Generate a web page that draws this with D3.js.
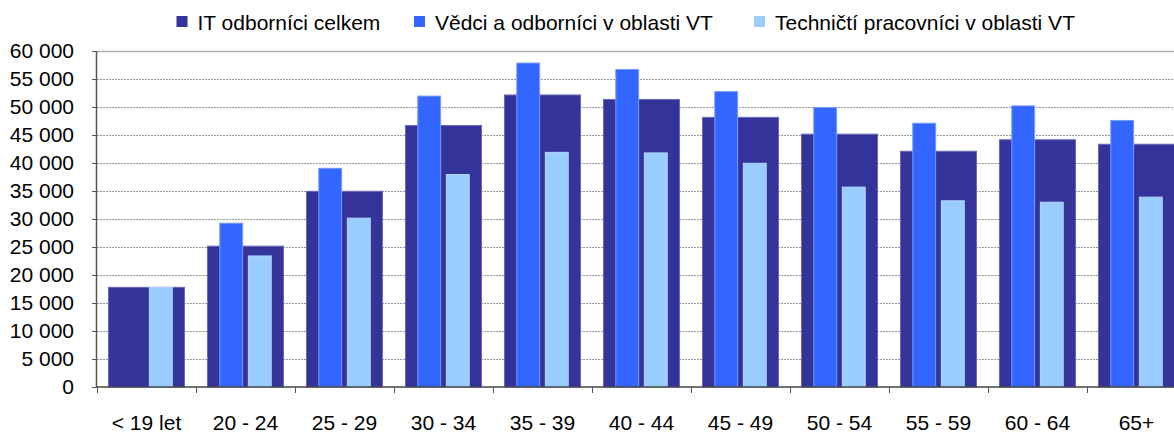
<!DOCTYPE html>
<html>
<head>
<meta charset="utf-8">
<script src="https://cdn.jsdelivr.net/npm/d3@7"></script>
<style>
  body { margin: 0; background: #fff; }
  svg text { font-family: "Liberation Sans", Arial, sans-serif; fill: #000; }
</style>
</head>
<body>
<svg></svg>
<script>
const size = {w: 1174, h: 432};
const margin = {t: 51, l: 97, b: 45};

const categories = ['< 19 let', '20 - 24', '25 - 29', '30 - 34', '35 - 39', '40 - 44',
    '45 - 49', '50 - 54', '55 - 59', '60 - 64', '65+'];
const itCelkem = [17800, 25150, 34950, 46700, 52150, 51350, 48150, 45150, 42100, 44150, 43350];
const vedci = [0, 29250, 39050, 51950, 57850, 56700, 52750, 49900, 47100, 50200, 47600];
const technicti = [17800, 23400, 30150, 37950, 41900, 41800, 39950, 35700, 33250, 33000, 33900];
const seriesNames = ['IT odborníci celkem', 'Vědci a odborníci v oblasti VT', 'Techničtí pracovníci v oblasti VT'];
const colors = ['#333399', '#3366ff', '#99ccff'];
const yTicks = d3.range(0, 60001, 5000);

const svg = d3.select('svg')
    .attr('width', size.w)
    .attr('height', size.h);

const plotW = 99 * categories.length;
const plotH = 387 - margin.t;

const x = d3.scaleBand()
    .domain(categories)
    .range([0, plotW])
    .paddingInner(0.232)
    .paddingOuter(0.116);

const inner = d3.scaleBand()
    .domain(['vedci', 'tech'])
    .range([12.3, x.bandwidth() - 12.3])
    .paddingInner(0.2);

const y = d3.scaleLinear()
    .domain([0, 60000])
    .range([plotH, 0]);

const g = svg.append('g')
    .attr('transform', `translate(${margin.l},${margin.t})`);

// gridlines
g.append('g').selectAll('line')
    .data(yTicks.filter(d => d > 0))
    .enter()
    .append('line')
    .attr('x1', 0)
    .attr('x2', plotW)
    .attr('y1', d => Math.round(y(d)) + 0.5)
    .attr('y2', d => Math.round(y(d)) + 0.5)
    .attr('stroke', d => d === 60000 ? '#b0b0b0' : '#999')
    .attr('stroke-width', d => d === 60000 ? 1.5 : 1)
    .attr('stroke-dasharray', d => d === 60000 ? null : '2,1');

const groups = g.selectAll('g.cat')
    .data(categories)
    .enter()
    .append('g')
    .classed('cat', true)
    .attr('transform', d => `translate(${x(d)},0)`);

groups.append('rect')
    .attr('x', 0)
    .attr('width', x.bandwidth())
    .attr('y', (d, i) => y(itCelkem[i]))
    .attr('height', (d, i) => plotH - y(itCelkem[i]))
    .attr('fill', colors[0])
    .attr('stroke', '#6b6bb5')
    .attr('stroke-width', 1);

groups.filter((d, i) => vedci[i] > 0)
    .append('rect')
    .attr('x', inner('vedci'))
    .attr('width', inner.bandwidth())
    .attr('y', d => y(vedci[categories.indexOf(d)]))
    .attr('height', d => plotH - y(vedci[categories.indexOf(d)]))
    .attr('fill', colors[1])
    .attr('stroke', '#7799ff')
    .attr('stroke-width', 1);

groups.append('rect')
    .attr('x', inner('tech'))
    .attr('width', inner.bandwidth())
    .attr('y', (d, i) => y(technicti[i]))
    .attr('height', (d, i) => plotH - y(technicti[i]))
    .attr('fill', colors[2])
    .attr('stroke', '#b5d8ff')
    .attr('stroke-width', 1);

// y axis
const yAxis = g.append('g')
    .call(d3.axisLeft(y)
        .tickValues(yTicks)
        .tickSize(5)
        .tickPadding(18)
        .tickFormat(d => d3.format(',')(d).replace(/,/g, ' ')));
yAxis.select('.domain').attr('stroke', '#555').attr('stroke-width', 1.5).attr('d', `M-0.5,0V${plotH}`);
yAxis.selectAll('.tick line').attr('stroke', '#555');
yAxis.selectAll('text').attr('font-size', 21).style('font-family', '"Liberation Sans", Arial, sans-serif');

// x axis
const xAxis = g.append('g')
    .attr('transform', `translate(0,${plotH})`);
xAxis.append('line')
    .attr('x1', 0).attr('x2', plotW)
    .attr('y1', 0).attr('y2', 0)
    .attr('stroke', '#444').attr('stroke-width', 1.5);
xAxis.selectAll('line.tk')
    .data(d3.range(categories.length + 1))
    .enter()
    .append('line')
    .classed('tk', true)
    .attr('x1', i => Math.round(i * x.step()) + 0.5)
    .attr('x2', i => Math.round(i * x.step()) + 0.5)
    .attr('y1', 0).attr('y2', 6)
    .attr('stroke', '#555');
xAxis.selectAll('text')
    .data(categories)
    .enter()
    .append('text')
    .attr('x', d => x(d) + x.bandwidth() / 2)
    .attr('y', 42.5)
    .attr('text-anchor', 'middle')
    .attr('font-size', 21)
    .text(d => d);

// legend
const legendX = [176.5, 414, 754];
const legend = svg.append('g').selectAll('g')
    .data(seriesNames)
    .enter()
    .append('g')
    .attr('transform', (d, i) => `translate(${legendX[i]},16)`);
legend.append('rect')
    .attr('width', 11).attr('height', 11)
    .attr('fill', (d, i) => colors[i]);
legend.append('text')
    .attr('x', 21).attr('y', 14)
    .attr('font-size', 21)
    .text(d => d);
</script>
</body>
</html>
